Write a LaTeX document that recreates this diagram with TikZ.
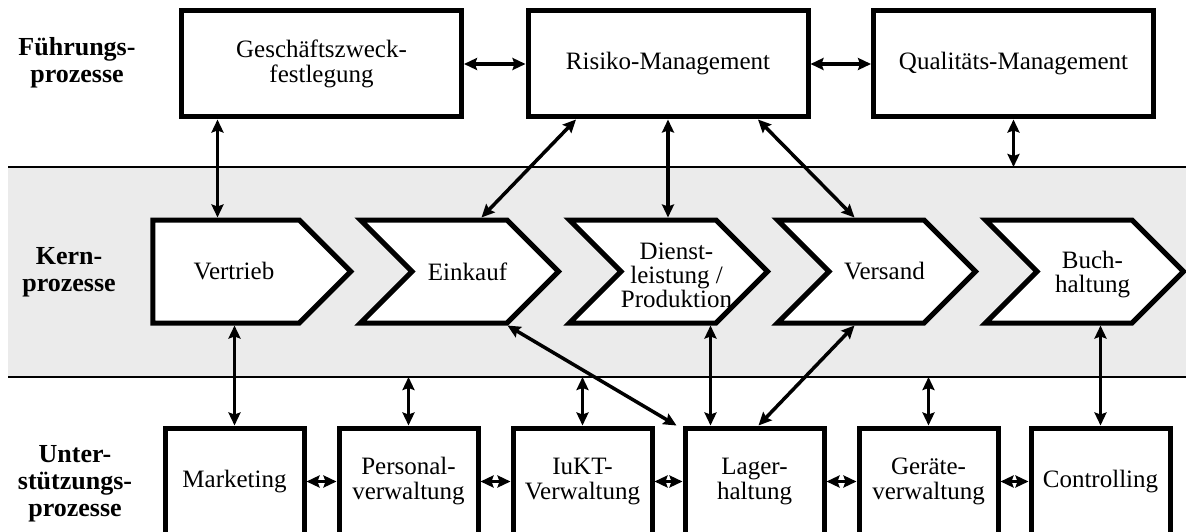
\documentclass[tikz,border=0pt]{standalone}
\usepackage{fontspec}
\setmainfont{Liberation Serif}
\usepackage{tikz}
\usetikzlibrary{arrows.meta}
\usetikzlibrary{shapes.symbols}

\begin{document}
\begin{tikzpicture}[x=1pt, y=-1pt]
	\tikzstyle{procbox} =
	[rectangle,
	draw,
	line width = 5pt,
	fill = white,
	align = center,
	inner sep = 0pt,
	font = \fontsize{25}{25}\selectfont
	]
	\tikzstyle{topbox} = [procbox, minimum width = 280pt, minimum height = 106pt]
	\tikzstyle{lowbox} = [procbox, minimum width = 139pt, minimum height = 107pt]
	\tikzstyle{chevron} =
	[procbox,
	signal,
	signal to = east,
	signal from = west,
	signal pointer angle = 90,
	minimum width = 198pt,
	minimum height = 103pt
	]
	\tikzstyle{chevtext} =
	[align = center,
	inner sep = 0pt,
	xshift = 8pt,
	font = \fontsize{25}{24}\selectfont
	]
	\tikzstyle{levellabel} =
	[align = center,
	font = \fontsize{26}{27}\selectfont\bfseries
	]
	\tikzstyle{link} =
	[line width = 3.5pt,
	{Stealth[length=13pt, width=12pt, inset=2pt]}-{Stealth[length=13pt, width=12pt, inset=2pt]}
	]

	\useasboundingbox (0,0) rectangle (1186,532);
	\clip (0,0) rectangle (1186,532);

	% band of the core processes
	\fill[black!8] (8,167) rectangle (1186,377);
	\draw[line width = 2pt] (8,167) -- (1186,167);
	\draw[line width = 2pt] (8,377) -- (1186,377);
	\coordinate (bandtop) at (8,167);
	\coordinate (bandlow) at (8,377);

	% level labels
	\node[levellabel] (fuehrung) at (77,63)   {Führungs-\\prozesse};
	\node[levellabel] (kern)     at (69,272)  {Kern-\\prozesse};
	\node[levellabel] (unterst)  at (75,484)  {Unter-\\stützungs-\\prozesse};

	% management processes
	\node[topbox] (zweck)  at (321.5,64)  {Geschäftszweck-\\festlegung};
	\node[topbox] (risiko) at (668,64)    {Risiko-Management};
	\node[topbox] (quali)  at (1013.5,64) {Qualitäts-Management};

	% core processes
	\node[chevron, signal from = nowhere, label = {[chevtext]center:Vertrieb}]
		(vertrieb) at (226,271.5) {};
	\node[chevron, label = {[chevtext]center:Einkauf}]
		(einkauf) at (459.5,271.5) {};
	\node[chevron, label = {[chevtext, yshift = -4pt]center:Dienst-\\leistung /\\Produktion}]
		(dienst) at (668.5,271.5) {};
	\node[chevron, label = {[chevtext]center:Versand}]
		(versand) at (876.5,271.5) {};
	\node[chevron, label = {[chevtext, yshift = -3pt]center:Buch-\\haltung}]
		(buch) at (1084.5,271.5) {};

	% support processes
	\node[lowbox] (marketing) at (234.5,481.5)  {Marketing};
	\node[lowbox] (personal)  at (408.5,481.5)  {Personal-\\verwaltung};
	\node[lowbox] (iukt)      at (582.5,481.5)  {IuKT-\\Verwaltung};
	\node[lowbox] (lager)     at (754.5,481.5)  {Lager-\\haltung};
	\node[lowbox] (geraete)   at (928.5,481.5)  {Geräte-\\verwaltung};
	\node[lowbox] (control)   at (1100.5,481.5) {Controlling};

	% links
	\draw[link] (zweck.east) -- (risiko.west);
	\draw[link] (risiko.east) -- (quali.west);
	\draw[link] ([xshift=-104pt]zweck.south) -- ([xshift=-104pt]zweck.south |- vertrieb.north);
	\draw[link] ([xshift=-92pt]risiko.south) -- ([xshift=22pt]einkauf.north);
	\draw[link] (risiko.south) -- (risiko.south |- dienst.north);
	\draw[link] ([xshift=90pt]risiko.south) -- ([xshift=-22pt]versand.north);
	\draw[link] (quali.south) -- (quali.south |- bandtop);

	\draw[link] (marketing.north) -- (marketing.north |- vertrieb.south);
	\draw[link] (personal.north) -- (personal.north |- bandlow);
	\draw[link] (iukt.north) -- (iukt.north |- bandlow);
	\draw[link] ([xshift=48pt]einkauf.south) -- ([xshift=-6pt]lager.north west);
	\draw[link] ([xshift=-44pt]lager.north) -- ([xshift=-44pt]lager.north |- dienst.south);
	\draw[link] ([xshift=-22pt]versand.south) -- ([xshift=4pt]lager.north);
	\draw[link] (geraete.north) -- (geraete.north |- bandlow);
	\draw[link] (control.north) -- (control.north |- buch.south);

	\foreach \a/\b in {marketing/personal, personal/iukt, iukt/lager, lager/geraete, geraete/control}
		\draw[link] (\a.east) -- (\b.west);
\end{tikzpicture}
\end{document}
